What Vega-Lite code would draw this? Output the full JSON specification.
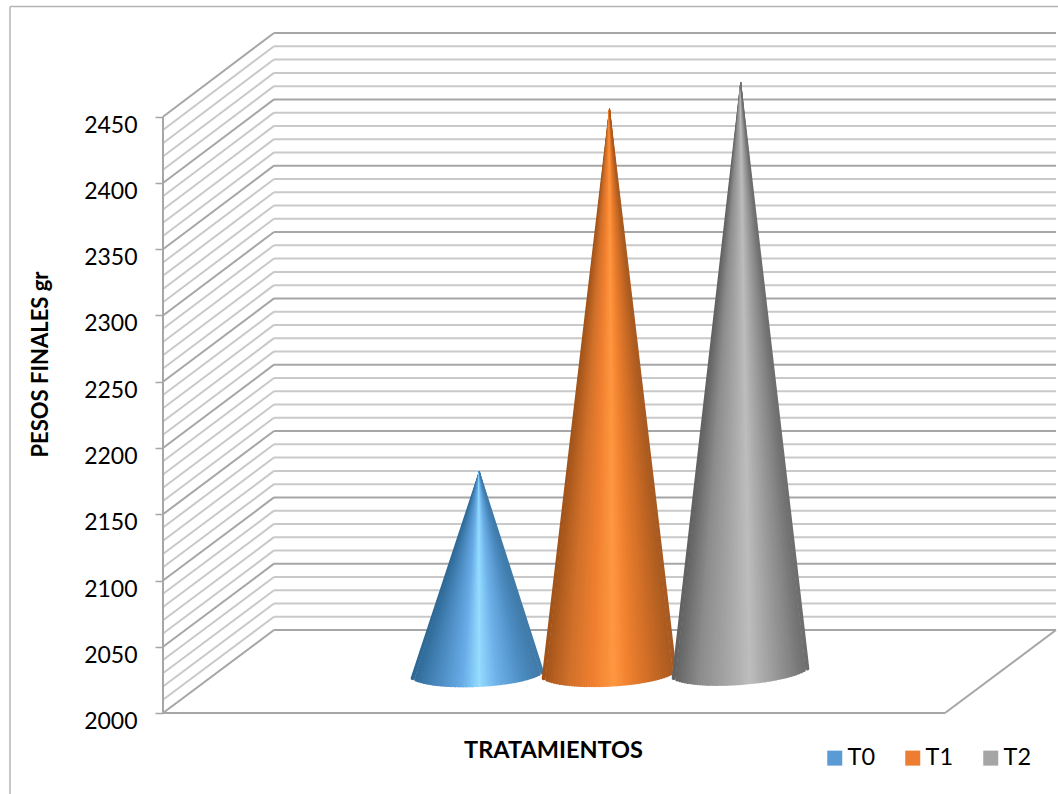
{"$schema":"https://vega.github.io/schema/vega-lite/v6.json","width":1058,"height":794,"autosize":"none","padding":0,"background":"white",
"datasets":{
"levels":[{"v":2000,"w":2062.6,"kind":"major"},{"v":2010,"w":2072.6,"kind":"minor"},{"v":2020,"w":2082.6,"kind":"minor"},{"v":2030,"w":2092.6,"kind":"minor"},{"v":2040,"w":2102.6,"kind":"minor"},{"v":2050,"w":2112.7,"kind":"major"},{"v":2060,"w":2122.7,"kind":"minor"},{"v":2070,"w":2132.7,"kind":"minor"},{"v":2080,"w":2142.7,"kind":"minor"},{"v":2090,"w":2152.7,"kind":"minor"},{"v":2100,"w":2162.7,"kind":"major"},{"v":2110,"w":2172.7,"kind":"minor"},{"v":2120,"w":2182.7,"kind":"minor"},{"v":2130,"w":2192.8,"kind":"minor"},{"v":2140,"w":2202.8,"kind":"minor"},{"v":2150,"w":2212.8,"kind":"major"},{"v":2160,"w":2222.8,"kind":"minor"},{"v":2170,"w":2232.8,"kind":"minor"},{"v":2180,"w":2242.8,"kind":"minor"},{"v":2190,"w":2252.8,"kind":"minor"},{"v":2200,"w":2262.9,"kind":"major"},{"v":2210,"w":2272.9,"kind":"minor"},{"v":2220,"w":2282.9,"kind":"minor"},{"v":2230,"w":2292.9,"kind":"minor"},{"v":2240,"w":2302.9,"kind":"minor"},{"v":2250,"w":2312.9,"kind":"major"},{"v":2260,"w":2322.9,"kind":"minor"},{"v":2270,"w":2332.9,"kind":"minor"},{"v":2280,"w":2343,"kind":"minor"},{"v":2290,"w":2353,"kind":"minor"},{"v":2300,"w":2363,"kind":"major"},{"v":2310,"w":2373,"kind":"minor"},{"v":2320,"w":2383,"kind":"minor"},{"v":2330,"w":2393,"kind":"minor"},{"v":2340,"w":2403,"kind":"minor"},{"v":2350,"w":2413.1,"kind":"major"},{"v":2360,"w":2423.1,"kind":"minor"},{"v":2370,"w":2433.1,"kind":"minor"},{"v":2380,"w":2443.1,"kind":"minor"},{"v":2390,"w":2453.1,"kind":"minor"},{"v":2400,"w":2463.1,"kind":"major"},{"v":2410,"w":2473.1,"kind":"minor"},{"v":2420,"w":2483.1,"kind":"minor"},{"v":2430,"w":2493.2,"kind":"minor"},{"v":2440,"w":2503.2,"kind":"minor"},{"v":2450,"w":2513.2,"kind":"major"}],
"frame":[{"x":10,"x2":10,"y":1938.87,"y2":2533.2,"kind":"border"},{"x":10,"x2":1058,"y":2533.2,"y2":2533.2,"kind":"border"},{"x":163,"x2":163,"y":2000,"y2":2450,"kind":"major"},{"x":163,"x2":945,"y":2000,"y2":2000,"kind":"major"},{"x":945,"x2":1056,"y":2000,"y2":2062.6,"kind":"major"}],
"totals":[{"c":"T0","x":479.3,"y":2182.1},{"c":"T1","x":609.5,"y":2455.6},{"c":"T2","x":740.7,"y":2475.7}],
"cone0":[
{"f":-13,"t":0,"x":479.3,"y":2182.1},{"f":-13,"t":1,"x":412.7,"y":2026.26},
{"f":-12.5,"t":0,"x":479.3,"y":2182.1},{"f":-12.5,"t":1,"x":416.2,"y":2025.2},
{"f":-12,"t":0,"x":479.3,"y":2182.1},{"f":-12,"t":1,"x":418.6,"y":2024.56},
{"f":-11.5,"t":0,"x":479.3,"y":2182.1},{"f":-11.5,"t":1,"x":421.1,"y":2024},
{"f":-11,"t":0,"x":479.3,"y":2182.1},{"f":-11,"t":1,"x":423.5,"y":2023.49},
{"f":-10.5,"t":0,"x":479.3,"y":2182.1},{"f":-10.5,"t":1,"x":426,"y":2023.08},
{"f":-10,"t":0,"x":479.3,"y":2182.1},{"f":-10,"t":1,"x":428.4,"y":2022.72},
{"f":-9.5,"t":0,"x":479.3,"y":2182.1},{"f":-9.5,"t":1,"x":430.9,"y":2022.41},
{"f":-9,"t":0,"x":479.3,"y":2182.1},{"f":-9,"t":1,"x":433.3,"y":2022.13},
{"f":-8.5,"t":0,"x":479.3,"y":2182.1},{"f":-8.5,"t":1,"x":435.8,"y":2021.89},
{"f":-8,"t":0,"x":479.3,"y":2182.1},{"f":-8,"t":1,"x":438.2,"y":2021.67},
{"f":-7.5,"t":0,"x":479.3,"y":2182.1},{"f":-7.5,"t":1,"x":440.7,"y":2021.49},
{"f":-7,"t":0,"x":479.3,"y":2182.1},{"f":-7,"t":1,"x":443.1,"y":2021.33},
{"f":-6.5,"t":0,"x":479.3,"y":2182.1},{"f":-6.5,"t":1,"x":445.6,"y":2021.19},
{"f":-6,"t":0,"x":479.3,"y":2182.1},{"f":-6,"t":1,"x":448,"y":2021.06},
{"f":-5.5,"t":0,"x":479.3,"y":2182.1},{"f":-5.5,"t":1,"x":450.5,"y":2020.97},
{"f":-5,"t":0,"x":479.3,"y":2182.1},{"f":-5,"t":1,"x":452.9,"y":2020.89},
{"f":-4.5,"t":0,"x":479.3,"y":2182.1},{"f":-4.5,"t":1,"x":455.4,"y":2020.83},
{"f":-4,"t":0,"x":479.3,"y":2182.1},{"f":-4,"t":1,"x":457.8,"y":2020.78},
{"f":-3.5,"t":0,"x":479.3,"y":2182.1},{"f":-3.5,"t":1,"x":460.3,"y":2020.75},
{"f":-3,"t":0,"x":479.3,"y":2182.1},{"f":-3,"t":1,"x":462.7,"y":2020.74},
{"f":-2.5,"t":0,"x":479.3,"y":2182.1},{"f":-2.5,"t":1,"x":465.2,"y":2020.75},
{"f":-2,"t":0,"x":479.3,"y":2182.1},{"f":-2,"t":1,"x":467.6,"y":2020.77},
{"f":-1.5,"t":0,"x":479.3,"y":2182.1},{"f":-1.5,"t":1,"x":470.1,"y":2020.8},
{"f":-1,"t":0,"x":479.3,"y":2182.1},{"f":-1,"t":1,"x":472.5,"y":2020.84},
{"f":-0.5,"t":0,"x":479.3,"y":2182.1},{"f":-0.5,"t":1,"x":474.9,"y":2020.91},
{"f":0,"t":0,"x":479.3,"y":2182.1},{"f":0,"t":1,"x":477.4,"y":2020.98},
{"f":0.5,"t":0,"x":479.3,"y":2182.1},{"f":0.5,"t":1,"x":479.8,"y":2021.08},
{"f":1,"t":0,"x":479.3,"y":2182.1},{"f":1,"t":1,"x":482.3,"y":2021.18},
{"f":1.5,"t":0,"x":479.3,"y":2182.1},{"f":1.5,"t":1,"x":484.7,"y":2021.3},
{"f":2,"t":0,"x":479.3,"y":2182.1},{"f":2,"t":1,"x":487.2,"y":2021.43},
{"f":2.5,"t":0,"x":479.3,"y":2182.1},{"f":2.5,"t":1,"x":489.6,"y":2021.58},
{"f":3,"t":0,"x":479.3,"y":2182.1},{"f":3,"t":1,"x":492.1,"y":2021.74},
{"f":3.5,"t":0,"x":479.3,"y":2182.1},{"f":3.5,"t":1,"x":494.5,"y":2021.92},
{"f":4,"t":0,"x":479.3,"y":2182.1},{"f":4,"t":1,"x":497,"y":2022.12},
{"f":4.5,"t":0,"x":479.3,"y":2182.1},{"f":4.5,"t":1,"x":499.4,"y":2022.33},
{"f":5,"t":0,"x":479.3,"y":2182.1},{"f":5,"t":1,"x":501.9,"y":2022.55},
{"f":5.5,"t":0,"x":479.3,"y":2182.1},{"f":5.5,"t":1,"x":504.3,"y":2022.8},
{"f":6,"t":0,"x":479.3,"y":2182.1},{"f":6,"t":1,"x":506.8,"y":2023.06},
{"f":6.5,"t":0,"x":479.3,"y":2182.1},{"f":6.5,"t":1,"x":509.2,"y":2023.35},
{"f":7,"t":0,"x":479.3,"y":2182.1},{"f":7,"t":1,"x":511.7,"y":2023.65},
{"f":7.5,"t":0,"x":479.3,"y":2182.1},{"f":7.5,"t":1,"x":514.2,"y":2023.98},
{"f":8,"t":0,"x":479.3,"y":2182.1},{"f":8,"t":1,"x":516.6,"y":2024.33},
{"f":8.5,"t":0,"x":479.3,"y":2182.1},{"f":8.5,"t":1,"x":519.1,"y":2024.72},
{"f":9,"t":0,"x":479.3,"y":2182.1},{"f":9,"t":1,"x":521.5,"y":2025.13},
{"f":9.5,"t":0,"x":479.3,"y":2182.1},{"f":9.5,"t":1,"x":524,"y":2025.57},
{"f":10,"t":0,"x":479.3,"y":2182.1},{"f":10,"t":1,"x":526.4,"y":2026.04},
{"f":10.5,"t":0,"x":479.3,"y":2182.1},{"f":10.5,"t":1,"x":528.9,"y":2026.58},
{"f":11,"t":0,"x":479.3,"y":2182.1},{"f":11,"t":1,"x":531.3,"y":2027.15},
{"f":11.5,"t":0,"x":479.3,"y":2182.1},{"f":11.5,"t":1,"x":533.8,"y":2027.8},
{"f":12,"t":0,"x":479.3,"y":2182.1},{"f":12,"t":1,"x":536.2,"y":2028.56},
{"f":12.5,"t":0,"x":479.3,"y":2182.1},{"f":12.5,"t":1,"x":538.7,"y":2029.4},
{"f":13,"t":0,"x":479.3,"y":2182.1},{"f":13,"t":1,"x":542.1,"y":2030.58}],
"cone1":[
{"f":-13,"t":0,"x":609.5,"y":2455.6},{"f":-13,"t":1,"x":543.7,"y":2026.19},
{"f":-12.5,"t":0,"x":609.5,"y":2455.6},{"f":-12.5,"t":1,"x":547.2,"y":2025.15},
{"f":-12,"t":0,"x":609.5,"y":2455.6},{"f":-12,"t":1,"x":549.7,"y":2024.52},
{"f":-11.5,"t":0,"x":609.5,"y":2455.6},{"f":-11.5,"t":1,"x":552.1,"y":2023.97},
{"f":-11,"t":0,"x":609.5,"y":2455.6},{"f":-11,"t":1,"x":554.6,"y":2023.47},
{"f":-10.5,"t":0,"x":609.5,"y":2455.6},{"f":-10.5,"t":1,"x":557.1,"y":2023.07},
{"f":-10,"t":0,"x":609.5,"y":2455.6},{"f":-10,"t":1,"x":559.6,"y":2022.71},
{"f":-9.5,"t":0,"x":609.5,"y":2455.6},{"f":-9.5,"t":1,"x":562.1,"y":2022.42},
{"f":-9,"t":0,"x":609.5,"y":2455.6},{"f":-9,"t":1,"x":564.5,"y":2022.15},
{"f":-8.5,"t":0,"x":609.5,"y":2455.6},{"f":-8.5,"t":1,"x":567,"y":2021.92},
{"f":-8,"t":0,"x":609.5,"y":2455.6},{"f":-8,"t":1,"x":569.5,"y":2021.71},
{"f":-7.5,"t":0,"x":609.5,"y":2455.6},{"f":-7.5,"t":1,"x":572,"y":2021.54},
{"f":-7,"t":0,"x":609.5,"y":2455.6},{"f":-7,"t":1,"x":574.5,"y":2021.39},
{"f":-6.5,"t":0,"x":609.5,"y":2455.6},{"f":-6.5,"t":1,"x":577,"y":2021.26},
{"f":-6,"t":0,"x":609.5,"y":2455.6},{"f":-6,"t":1,"x":579.4,"y":2021.15},
{"f":-5.5,"t":0,"x":609.5,"y":2455.6},{"f":-5.5,"t":1,"x":581.9,"y":2021.07},
{"f":-5,"t":0,"x":609.5,"y":2455.6},{"f":-5,"t":1,"x":584.4,"y":2021},
{"f":-4.5,"t":0,"x":609.5,"y":2455.6},{"f":-4.5,"t":1,"x":586.9,"y":2020.95},
{"f":-4,"t":0,"x":609.5,"y":2455.6},{"f":-4,"t":1,"x":589.4,"y":2020.92},
{"f":-3.5,"t":0,"x":609.5,"y":2455.6},{"f":-3.5,"t":1,"x":591.8,"y":2020.9},
{"f":-3,"t":0,"x":609.5,"y":2455.6},{"f":-3,"t":1,"x":594.3,"y":2020.89},
{"f":-2.5,"t":0,"x":609.5,"y":2455.6},{"f":-2.5,"t":1,"x":596.8,"y":2020.91},
{"f":-2,"t":0,"x":609.5,"y":2455.6},{"f":-2,"t":1,"x":599.3,"y":2020.94},
{"f":-1.5,"t":0,"x":609.5,"y":2455.6},{"f":-1.5,"t":1,"x":601.8,"y":2020.98},
{"f":-1,"t":0,"x":609.5,"y":2455.6},{"f":-1,"t":1,"x":604.2,"y":2021.04},
{"f":-0.5,"t":0,"x":609.5,"y":2455.6},{"f":-0.5,"t":1,"x":606.7,"y":2021.11},
{"f":0,"t":0,"x":609.5,"y":2455.6},{"f":0,"t":1,"x":609.2,"y":2021.2},
{"f":0.5,"t":0,"x":609.5,"y":2455.6},{"f":0.5,"t":1,"x":611.7,"y":2021.3},
{"f":1,"t":0,"x":609.5,"y":2455.6},{"f":1,"t":1,"x":614.2,"y":2021.42},
{"f":1.5,"t":0,"x":609.5,"y":2455.6},{"f":1.5,"t":1,"x":616.6,"y":2021.55},
{"f":2,"t":0,"x":609.5,"y":2455.6},{"f":2,"t":1,"x":619.1,"y":2021.7},
{"f":2.5,"t":0,"x":609.5,"y":2455.6},{"f":2.5,"t":1,"x":621.6,"y":2021.86},
{"f":3,"t":0,"x":609.5,"y":2455.6},{"f":3,"t":1,"x":624.1,"y":2022.03},
{"f":3.5,"t":0,"x":609.5,"y":2455.6},{"f":3.5,"t":1,"x":626.6,"y":2022.21},
{"f":4,"t":0,"x":609.5,"y":2455.6},{"f":4,"t":1,"x":629,"y":2022.42},
{"f":4.5,"t":0,"x":609.5,"y":2455.6},{"f":4.5,"t":1,"x":631.5,"y":2022.64},
{"f":5,"t":0,"x":609.5,"y":2455.6},{"f":5,"t":1,"x":634,"y":2022.88},
{"f":5.5,"t":0,"x":609.5,"y":2455.6},{"f":5.5,"t":1,"x":636.5,"y":2023.14},
{"f":6,"t":0,"x":609.5,"y":2455.6},{"f":6,"t":1,"x":639,"y":2023.41},
{"f":6.5,"t":0,"x":609.5,"y":2455.6},{"f":6.5,"t":1,"x":641.5,"y":2023.71},
{"f":7,"t":0,"x":609.5,"y":2455.6},{"f":7,"t":1,"x":643.9,"y":2024.03},
{"f":7.5,"t":0,"x":609.5,"y":2455.6},{"f":7.5,"t":1,"x":646.4,"y":2024.37},
{"f":8,"t":0,"x":609.5,"y":2455.6},{"f":8,"t":1,"x":648.9,"y":2024.73},
{"f":8.5,"t":0,"x":609.5,"y":2455.6},{"f":8.5,"t":1,"x":651.4,"y":2025.13},
{"f":9,"t":0,"x":609.5,"y":2455.6},{"f":9,"t":1,"x":653.9,"y":2025.55},
{"f":9.5,"t":0,"x":609.5,"y":2455.6},{"f":9.5,"t":1,"x":656.3,"y":2026.01},
{"f":10,"t":0,"x":609.5,"y":2455.6},{"f":10,"t":1,"x":658.8,"y":2026.49},
{"f":10.5,"t":0,"x":609.5,"y":2455.6},{"f":10.5,"t":1,"x":661.3,"y":2027.03},
{"f":11,"t":0,"x":609.5,"y":2455.6},{"f":11,"t":1,"x":663.8,"y":2027.61},
{"f":11.5,"t":0,"x":609.5,"y":2455.6},{"f":11.5,"t":1,"x":666.3,"y":2028.3},
{"f":12,"t":0,"x":609.5,"y":2455.6},{"f":12,"t":1,"x":668.7,"y":2029.04},
{"f":12.5,"t":0,"x":609.5,"y":2455.6},{"f":12.5,"t":1,"x":671.2,"y":2029.9},
{"f":13,"t":0,"x":609.5,"y":2455.6},{"f":13,"t":1,"x":674.7,"y":2031.09}],
"cone2":[
{"f":-13,"t":0,"x":740.7,"y":2475.7},{"f":-13,"t":1,"x":673.7,"y":2026.33},
{"f":-12.5,"t":0,"x":740.7,"y":2475.7},{"f":-12.5,"t":1,"x":677.2,"y":2025.3},
{"f":-12,"t":0,"x":740.7,"y":2475.7},{"f":-12,"t":1,"x":679.8,"y":2024.74},
{"f":-11.5,"t":0,"x":740.7,"y":2475.7},{"f":-11.5,"t":1,"x":682.3,"y":2024.2},
{"f":-11,"t":0,"x":740.7,"y":2475.7},{"f":-11,"t":1,"x":684.8,"y":2023.78},
{"f":-10.5,"t":0,"x":740.7,"y":2475.7},{"f":-10.5,"t":1,"x":687.3,"y":2023.42},
{"f":-10,"t":0,"x":740.7,"y":2475.7},{"f":-10,"t":1,"x":689.9,"y":2023.12},
{"f":-9.5,"t":0,"x":740.7,"y":2475.7},{"f":-9.5,"t":1,"x":692.4,"y":2022.86},
{"f":-9,"t":0,"x":740.7,"y":2475.7},{"f":-9,"t":1,"x":695,"y":2022.65},
{"f":-8.5,"t":0,"x":740.7,"y":2475.7},{"f":-8.5,"t":1,"x":697.5,"y":2022.46},
{"f":-8,"t":0,"x":740.7,"y":2475.7},{"f":-8,"t":1,"x":700,"y":2022.29},
{"f":-7.5,"t":0,"x":740.7,"y":2475.7},{"f":-7.5,"t":1,"x":702.5,"y":2022.17},
{"f":-7,"t":0,"x":740.7,"y":2475.7},{"f":-7,"t":1,"x":705.1,"y":2022.06},
{"f":-6.5,"t":0,"x":740.7,"y":2475.7},{"f":-6.5,"t":1,"x":707.6,"y":2021.98},
{"f":-6,"t":0,"x":740.7,"y":2475.7},{"f":-6,"t":1,"x":710.1,"y":2021.91},
{"f":-5.5,"t":0,"x":740.7,"y":2475.7},{"f":-5.5,"t":1,"x":712.7,"y":2021.87},
{"f":-5,"t":0,"x":740.7,"y":2475.7},{"f":-5,"t":1,"x":715.2,"y":2021.84},
{"f":-4.5,"t":0,"x":740.7,"y":2475.7},{"f":-4.5,"t":1,"x":717.7,"y":2021.84},
{"f":-4,"t":0,"x":740.7,"y":2475.7},{"f":-4,"t":1,"x":720.3,"y":2021.85},
{"f":-3.5,"t":0,"x":740.7,"y":2475.7},{"f":-3.5,"t":1,"x":722.8,"y":2021.88},
{"f":-3,"t":0,"x":740.7,"y":2475.7},{"f":-3,"t":1,"x":725.3,"y":2021.92},
{"f":-2.5,"t":0,"x":740.7,"y":2475.7},{"f":-2.5,"t":1,"x":727.8,"y":2021.98},
{"f":-2,"t":0,"x":740.7,"y":2475.7},{"f":-2,"t":1,"x":730.4,"y":2022.06},
{"f":-1.5,"t":0,"x":740.7,"y":2475.7},{"f":-1.5,"t":1,"x":732.9,"y":2022.14},
{"f":-1,"t":0,"x":740.7,"y":2475.7},{"f":-1,"t":1,"x":735.4,"y":2022.24},
{"f":-0.5,"t":0,"x":740.7,"y":2475.7},{"f":-0.5,"t":1,"x":738,"y":2022.36},
{"f":0,"t":0,"x":740.7,"y":2475.7},{"f":0,"t":1,"x":740.5,"y":2022.49},
{"f":0.5,"t":0,"x":740.7,"y":2475.7},{"f":0.5,"t":1,"x":743,"y":2022.64},
{"f":1,"t":0,"x":740.7,"y":2475.7},{"f":1,"t":1,"x":745.6,"y":2022.8},
{"f":1.5,"t":0,"x":740.7,"y":2475.7},{"f":1.5,"t":1,"x":748.1,"y":2022.97},
{"f":2,"t":0,"x":740.7,"y":2475.7},{"f":2,"t":1,"x":750.6,"y":2023.16},
{"f":2.5,"t":0,"x":740.7,"y":2475.7},{"f":2.5,"t":1,"x":753.2,"y":2023.36},
{"f":3,"t":0,"x":740.7,"y":2475.7},{"f":3,"t":1,"x":755.7,"y":2023.58},
{"f":3.5,"t":0,"x":740.7,"y":2475.7},{"f":3.5,"t":1,"x":758.2,"y":2023.82},
{"f":4,"t":0,"x":740.7,"y":2475.7},{"f":4,"t":1,"x":760.7,"y":2024.07},
{"f":4.5,"t":0,"x":740.7,"y":2475.7},{"f":4.5,"t":1,"x":763.3,"y":2024.34},
{"f":5,"t":0,"x":740.7,"y":2475.7},{"f":5,"t":1,"x":765.8,"y":2024.62},
{"f":5.5,"t":0,"x":740.7,"y":2475.7},{"f":5.5,"t":1,"x":768.3,"y":2024.92},
{"f":6,"t":0,"x":740.7,"y":2475.7},{"f":6,"t":1,"x":770.9,"y":2025.23},
{"f":6.5,"t":0,"x":740.7,"y":2475.7},{"f":6.5,"t":1,"x":773.4,"y":2025.58},
{"f":7,"t":0,"x":740.7,"y":2475.7},{"f":7,"t":1,"x":775.9,"y":2025.94},
{"f":7.5,"t":0,"x":740.7,"y":2475.7},{"f":7.5,"t":1,"x":778.5,"y":2026.33},
{"f":8,"t":0,"x":740.7,"y":2475.7},{"f":8,"t":1,"x":781,"y":2026.73},
{"f":8.5,"t":0,"x":740.7,"y":2475.7},{"f":8.5,"t":1,"x":783.5,"y":2027.17},
{"f":9,"t":0,"x":740.7,"y":2475.7},{"f":9,"t":1,"x":786.1,"y":2027.63},
{"f":9.5,"t":0,"x":740.7,"y":2475.7},{"f":9.5,"t":1,"x":788.6,"y":2028.14},
{"f":10,"t":0,"x":740.7,"y":2475.7},{"f":10,"t":1,"x":791.1,"y":2028.66},
{"f":10.5,"t":0,"x":740.7,"y":2475.7},{"f":10.5,"t":1,"x":793.7,"y":2029.26},
{"f":11,"t":0,"x":740.7,"y":2475.7},{"f":11,"t":1,"x":796.2,"y":2029.88},
{"f":11.5,"t":0,"x":740.7,"y":2475.7},{"f":11.5,"t":1,"x":798.7,"y":2030.6},
{"f":12,"t":0,"x":740.7,"y":2475.7},{"f":12,"t":1,"x":801.2,"y":2031.4},
{"f":12.5,"t":0,"x":740.7,"y":2475.7},{"f":12.5,"t":1,"x":803.8,"y":2032.3},
{"f":13,"t":0,"x":740.7,"y":2475.7},{"f":13,"t":1,"x":807.3,"y":2033.53}]
},
"encoding":{
"x":{"type":"quantitative","scale":{"domain":[0,1058],"nice":false,"zero":false},"axis":{"values":[],"domain":false,"ticks":false,"labels":false,"grid":false,"title":"TRATAMIENTOS","titleFont":"Lato","titleFontWeight":"bold","titleFontSize":23.5,"titleColor":"#000000","titleX":553,"titleY":-44,"titleAlign":"center","titleBaseline":"middle"}},
"y":{"type":"quantitative","scale":{"domain":[1938.87,2538.11],"nice":false,"zero":false},"axis":{"values":[2000,2050,2100,2150,2200,2250,2300,2350,2400,2450],"format":"d","offset":-163,"domain":false,"grid":false,"tickSize":8,"tickColor":"#a6a6a6","tickWidth":1.5,"labelFont":"Lato","labelFontSize":23,"labelColor":"#000000","labelPadding":18,"labelOffset":8.5,"title":"PESOS FINALES gr","titleFont":"Lato","titleFontWeight":"bold","titleFontSize":22,"titleColor":"#000000","titleX":-123,"titleY":364,"titleAlign":"center","titleBaseline":"middle","titleAngle":270}}
},
"layer":[
{"data":{"name":"levels"},"mark":{"type":"rule"},"encoding":{"x":{"datum":274},"x2":{"datum":1056},"y":{"field":"w"},"color":{"field":"kind","type":"nominal","scale":{"domain":["major","minor"],"range":["#a6a6a6","#c9c9c9"]},"legend":null},"strokeWidth":{"field":"kind","type":"nominal","scale":{"domain":["major","minor"],"range":[2,2]},"legend":null}}},
{"data":{"name":"levels"},"mark":{"type":"rule"},"encoding":{"x":{"datum":163},"x2":{"datum":274},"y":{"field":"v"},"y2":{"field":"w"},"color":{"field":"kind","type":"nominal","scale":{"domain":["major","minor"],"range":["#a6a6a6","#c9c9c9"]},"legend":null},"strokeWidth":{"field":"kind","type":"nominal","scale":{"domain":["major","minor"],"range":[2,2]},"legend":null}}},
{"data":{"name":"frame"},"mark":{"type":"rule"},"encoding":{"x":{"field":"x"},"x2":{"field":"x2"},"y":{"field":"y"},"y2":{"field":"y2"},"color":{"field":"kind","type":"nominal","scale":{"domain":["major","border"],"range":["#a6a6a6","#b5b5b5"]},"legend":null},"strokeWidth":{"field":"kind","type":"nominal","scale":{"domain":["major","border"],"range":[2,1.5]},"legend":null}}},
{"data":{"name":"cone0"},"mark":{"type":"trail"},"encoding":{"x":{"field":"x"},"y":{"field":"y"},"detail":{"field":"f"},"order":{"field":"t"},"size":{"field":"t","type":"quantitative","scale":{"domain":[0,1],"range":[0,4]},"legend":null},"color":{"field":"f","type":"quantitative","scale":{"domain":[-13,-8,-3,0.5,4,9,13],"range":["#2f6a97","#4a8ac0","#68abe6","#96dcff","#6fb2ea","#4e8ec4","#3f7aa8"]},"legend":null}}},
{"data":{"name":"cone1"},"mark":{"type":"trail"},"encoding":{"x":{"field":"x"},"y":{"field":"y"},"detail":{"field":"f"},"order":{"field":"t"},"size":{"field":"t","type":"quantitative","scale":{"domain":[0,1],"range":[0,4]},"legend":null},"color":{"field":"f","type":"quantitative","scale":{"domain":[-13,-8,-3,1,4,9,13],"range":["#a3541a","#d0702a","#f08030","#ff9740","#f0812f","#c96a25","#a85a20"]},"legend":null}}},
{"data":{"name":"cone2"},"mark":{"type":"trail"},"encoding":{"x":{"field":"x"},"y":{"field":"y"},"detail":{"field":"f"},"order":{"field":"t"},"size":{"field":"t","type":"quantitative","scale":{"domain":[0,1],"range":[0,4]},"legend":null},"color":{"field":"f","type":"quantitative","scale":{"domain":[-13,-8,-2,2,6,10,13],"range":["#626262","#8c8c8c","#a8a8a8","#bdbdbd","#a0a0a0","#858585","#6e6e6e"]},"legend":null}}},
{"data":{"name":"totals"},"mark":{"type":"point","filled":true,"shape":"square","opacity":0},"encoding":{"x":{"field":"x"},"y":{"field":"y"},"color":{"field":"c","type":"nominal","scale":{"domain":["T0","T1","T2"],"range":["#5b9bd5","#ed7d31","#a5a5a5"]},"legend":{"title":null,"orient":"none","legendX":823,"legendY":746,"direction":"horizontal","columns":3,"symbolType":"square","symbolSize":225,"symbolOpacity":1,"symbolStrokeWidth":0,"labelFont":"Lato","labelFontSize":23.5,"labelColor":"#000000","labelOffset":1,"columnPadding":25,"padding":0}}}}
],
"resolve":{"scale":{"color":"independent","strokeWidth":"independent","size":"independent"}},
"config":{"view":{"stroke":null}}}
